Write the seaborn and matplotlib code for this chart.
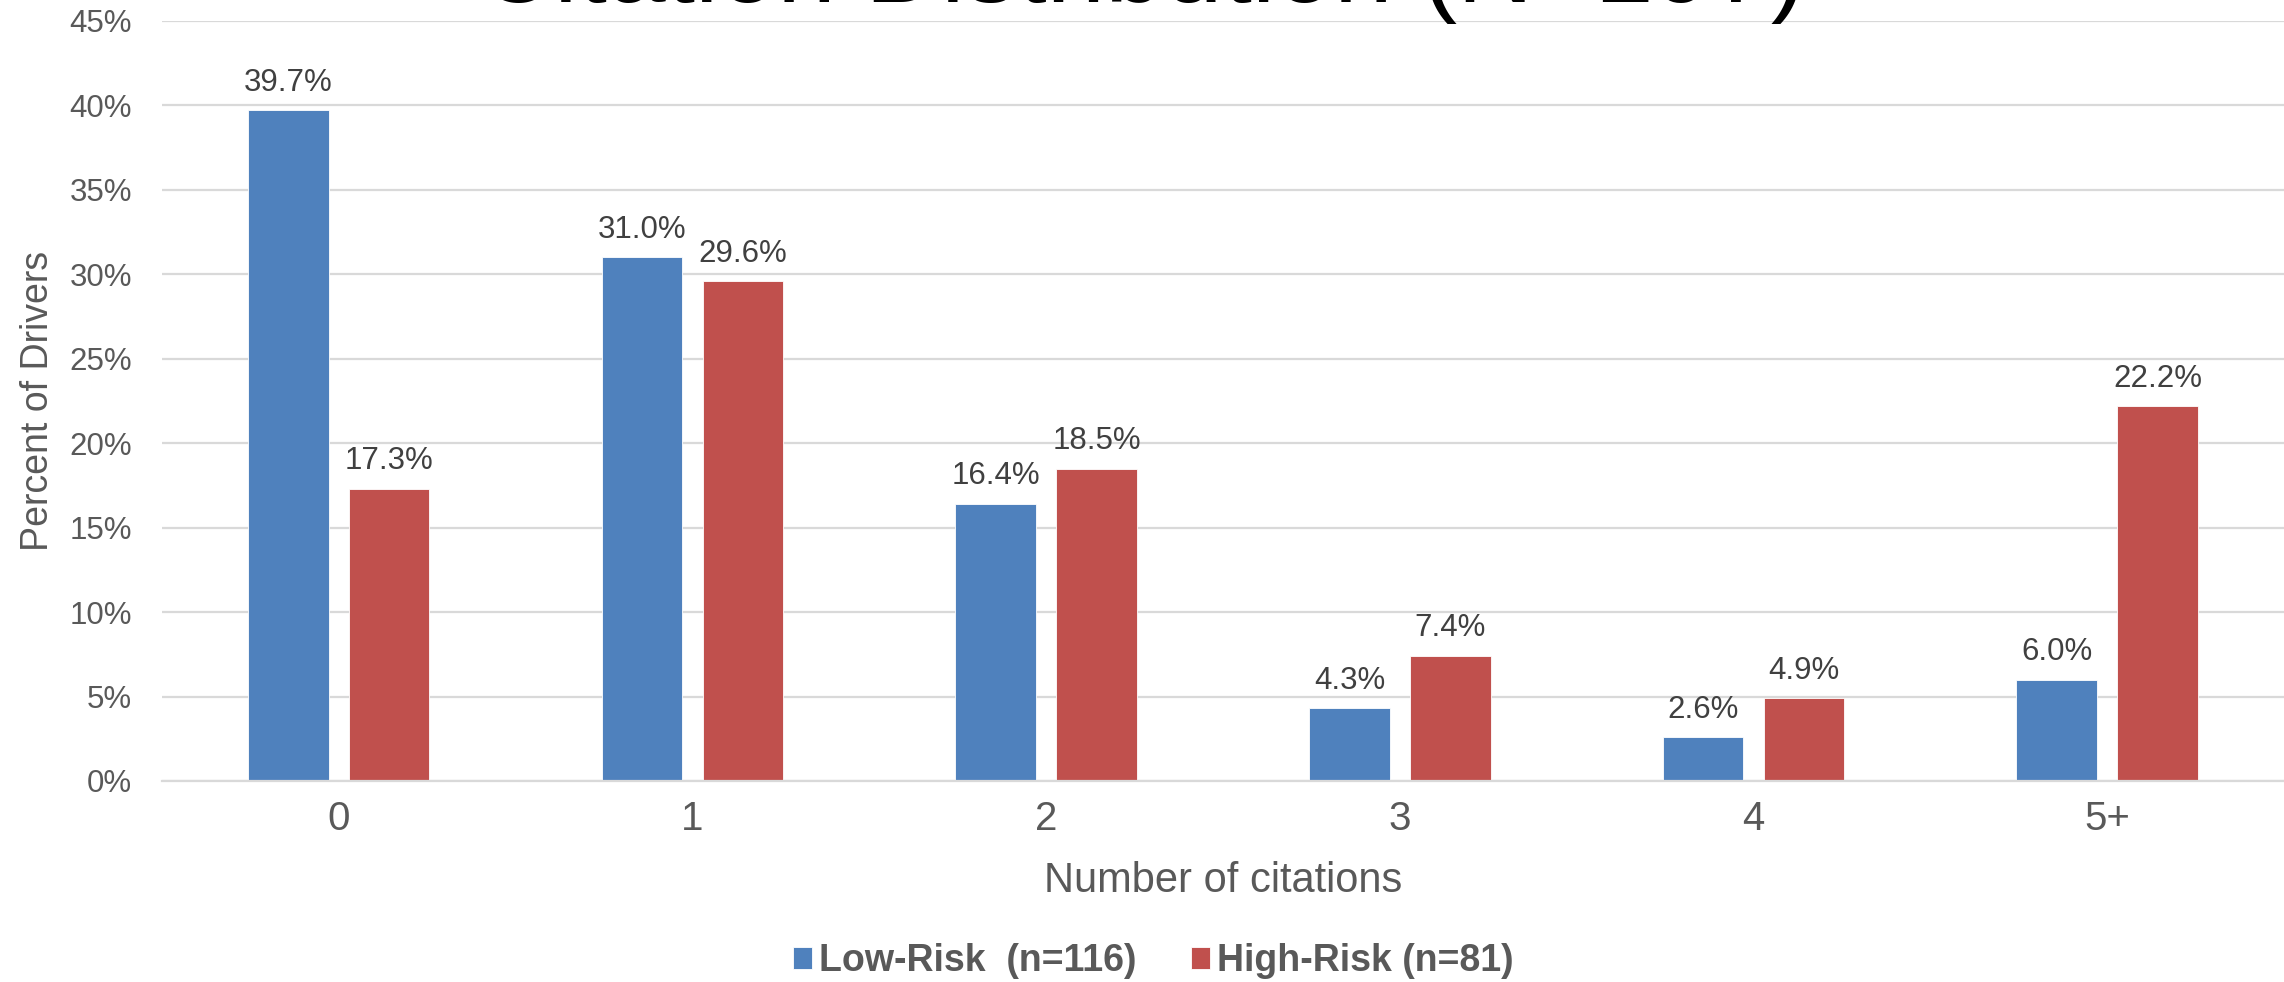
import matplotlib
matplotlib.use("Agg")
import matplotlib.pyplot as plt
from matplotlib import font_manager
import seaborn as sns
import pandas as pd

# Citation counts and share of drivers per risk group
categories = ["0", "1", "2", "3", "4", "5+"]
low_risk = [39.7, 31.0, 16.4, 4.3, 2.6, 6.0]
high_risk = [17.3, 29.6, 18.5, 7.4, 4.9, 22.2]
group_names = ["Low-Risk  (n=116)", "High-Risk (n=81)"]
y_ticks = [0, 5, 10, 15, 20, 25, 30, 35, 40, 45]
title_text = "Citation Distribution (N=197)"

df = pd.DataFrame({
    "citations": categories * 2,
    "pct": low_risk + high_risk,
    "group": [group_names[0]] * len(categories) + [group_names[1]] * len(categories),
})

sns.set_theme(style="white")
installed = {f.name for f in font_manager.fontManager.ttflist}
base_font = "Liberation Sans" if "Liberation Sans" in installed else "DejaVu Sans"
plt.rcParams["font.family"] = [base_font, "DejaVu Sans"]

fig = plt.figure(figsize=(22.84, 9.82), dpi=100)
ax = fig.add_axes([0.0709, 0.2047, 0.9291, 0.774])

palette = {group_names[0]: "#4F81BD", group_names[1]: "#C0504D"}
sns.barplot(data=df, x="citations", y="pct", hue="group", order=categories,
            hue_order=group_names, palette=palette, width=0.57, gap=0.2,
            saturation=1, edgecolor="white", linewidth=0.6, ax=ax)

ax.set_ylim(0, 45)
ax.set_xlim(-0.5, len(categories) - 0.5)
ax.set_yticks(y_ticks)
ax.set_yticklabels([f"{t}%" for t in y_ticks])
ax.yaxis.grid(True, color="#D9D9D9", linewidth=1.6)
ax.set_axisbelow(True)
for side in ["top", "right", "left"]:
    ax.spines[side].set_visible(False)
ax.spines["bottom"].set_color("#D9D9D9")
ax.spines["bottom"].set_linewidth(1.6)
ax.tick_params(axis="y", length=0, labelsize=22.5, labelcolor="#595959", pad=21.5)
ax.tick_params(axis="x", length=0, labelsize=29, labelcolor="#595959", pad=14)

ax.set_xlabel("Number of citations", fontsize=30, color="#595959", labelpad=16)
ax.set_ylabel("Percent of Drivers", fontsize=27, color="#595959", labelpad=10)

# Value labels above each bar
for container in ax.containers:
    ax.bar_label(container, labels=[f"{v:.1f}%" for v in container.datavalues],
                 fontsize=22.5, color="#404040", padding=9)

handles, labels = ax.get_legend_handles_labels()
if ax.legend_:
    ax.legend_.remove()
fig.legend(handles, labels, loc="center", bbox_to_anchor=(0.505, 0.021), ncol=2,
           frameon=False, handlelength=0.5, handleheight=0.5, handletextpad=0.2,
           columnspacing=1.45,
           prop={"family": [base_font, "DejaVu Sans"], "weight": "bold", "size": 27})
for t in fig.legends[0].get_texts():
    t.set_color("#595959")

fig.text(0.5, 1 - 1.5 / 982, title_text, ha="center", va="baseline", fontsize=76,
         color="black")

fig.savefig("out.png", dpi=100)
